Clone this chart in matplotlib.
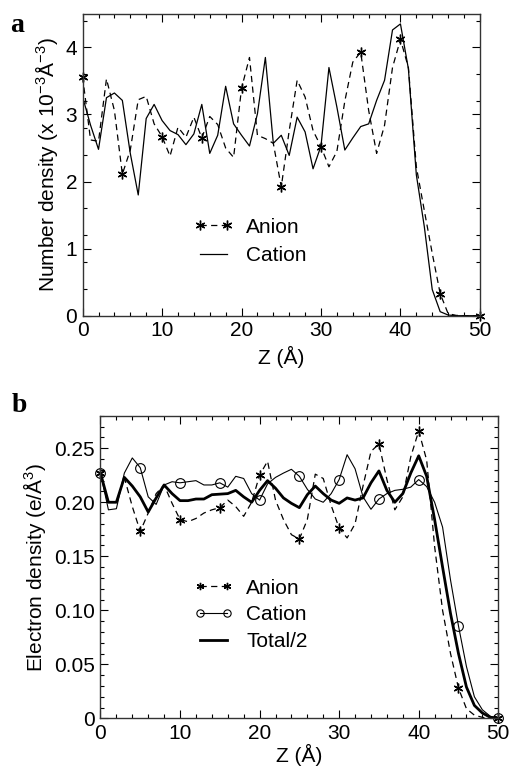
import matplotlib
matplotlib.use("Agg")
import matplotlib.pyplot as plt
from matplotlib.ticker import MultipleLocator

plt.rcParams['font.family'] = ['Liberation Sans', 'DejaVu Sans']
plt.rcParams['mathtext.fontset'] = 'custom'
plt.rcParams['mathtext.rm'] = 'Liberation Sans'
plt.rcParams['mathtext.it'] = 'Liberation Sans:italic'

z = list(range(51))

# panel a: number density (x 10^-3 A^-3)
anion_n = [3.56, 2.62, 2.60, 3.53, 3.06, 2.11, 2.47, 3.22, 3.27, 2.86,
           2.67, 2.38, 2.81, 2.66, 2.96, 2.65, 2.97, 2.85, 2.50, 2.36,
           3.39, 3.85, 2.69, 2.64, 2.57, 1.92, 2.76, 3.51, 3.26, 2.76,
           2.52, 2.22, 2.45, 3.20, 3.78, 3.93, 3.06, 2.42, 2.84, 3.70,
           4.12, 3.70, 2.22, 1.57, 0.93, 0.33, 0.03, 0.005, 0.0, 0.0, 0.0]
cation_n = [3.26, 2.84, 2.48, 3.25, 3.32, 3.21, 2.42, 1.80, 2.94, 3.15,
            2.91, 2.76, 2.70, 2.55, 2.71, 3.15, 2.42, 2.69, 3.42, 2.86,
            2.69, 2.53, 3.01, 3.85, 2.57, 2.69, 2.39, 2.96, 2.74, 2.19,
            2.53, 3.70, 3.11, 2.47, 2.65, 2.82, 2.86, 3.21, 3.51, 4.26,
            4.35, 3.68, 2.10, 1.33, 0.39, 0.06, 0.01, 0.0, 0.0, 0.0, 0.0]

# panel b: electron density (e/A^3)
anion_e = [0.227, 0.200, 0.200, 0.223, 0.196, 0.173, 0.190, 0.208, 0.216, 0.199,
           0.184, 0.182, 0.185, 0.190, 0.193, 0.195, 0.202, 0.196, 0.187, 0.200,
           0.225, 0.238, 0.202, 0.184, 0.170, 0.166, 0.184, 0.226, 0.222, 0.197,
           0.176, 0.167, 0.180, 0.215, 0.247, 0.254, 0.221, 0.193, 0.205, 0.242,
           0.266, 0.239, 0.159, 0.100, 0.060, 0.028, 0.009, 0.003, 0.001, 0.0, 0.0]
cation_e = [0.227, 0.193, 0.194, 0.227, 0.241, 0.232, 0.205, 0.198, 0.216, 0.219,
            0.218, 0.219, 0.220, 0.216, 0.216, 0.218, 0.214, 0.224, 0.222, 0.208,
            0.202, 0.217, 0.223, 0.227, 0.2305, 0.224, 0.212, 0.203, 0.200, 0.208,
            0.221, 0.244, 0.231, 0.205, 0.1935, 0.203, 0.208, 0.211, 0.212, 0.214,
            0.221, 0.2145, 0.200, 0.177, 0.128, 0.0855, 0.048, 0.020, 0.008, 0.002, 0.0]
total_e = [0.227, 0.200, 0.200, 0.223, 0.215, 0.205, 0.191, 0.204, 0.216, 0.208,
           0.2015, 0.2015, 0.203, 0.203, 0.207, 0.2075, 0.208, 0.211, 0.205, 0.200,
           0.211, 0.220, 0.213, 0.204, 0.199, 0.195, 0.207, 0.215, 0.208, 0.202,
           0.199, 0.204, 0.202, 0.204, 0.218, 0.229, 0.211, 0.200, 0.208, 0.227,
           0.243, 0.224, 0.184, 0.140, 0.097, 0.060, 0.029, 0.012, 0.005, 0.001, 0.0]

fig = plt.figure(figsize=(5.1, 7.7), dpi=100)
ax1 = fig.add_axes([0.162, 0.590, 0.779, 0.392])
ax2 = fig.add_axes([0.197, 0.067, 0.780, 0.393])

star = (6, 2, 0)
dash = (0, (5, 3.5))
fs = 15


def style_axes(ax, xpad):
    ax.tick_params(which='both', direction='in', top=True, right=True,
                   labelsize=fs, pad=4)
    ax.tick_params(which='major', length=6, width=0.8)
    ax.tick_params(which='minor', length=3, width=0.8)
    for s in ax.spines.values():
        s.set_linewidth(1.0)
        s.set_color('#333333')
    ax.set_xlim(0, 50)
    ax.xaxis.set_major_locator(MultipleLocator(10))
    ax.xaxis.set_minor_locator(MultipleLocator(2))
    ax.set_xlabel('Z (Å)', fontsize=fs, labelpad=xpad)


# ---- panel a ----
ax1.plot(z, anion_n, color='black', lw=0.9, linestyle=dash, marker=star,
         markersize=7, markevery=5, markeredgewidth=1.0, label='Anion', clip_on=False)
ax1.plot(z, cation_n, color='black', lw=0.9, label='Cation')
style_axes(ax1, 4)
ax1.set_ylim(0, 4.5)
ax1.set_xticks([0, 10, 20, 30, 40, 50])
ax1.set_yticks([0, 1, 2, 3, 4])
ax1.yaxis.set_minor_locator(MultipleLocator(0.4))
ax1.set_ylabel(r'Number density (x 10$^{-3}$Å$^{-3}$)', fontsize=fs, labelpad=4)
ax1.legend(loc='upper left', bbox_to_anchor=(0.28, 0.325), frameon=False,
           fontsize=fs, numpoints=2, handlelength=1.9, handletextpad=0.6,
           borderpad=0, borderaxespad=0, labelspacing=0.45)
fig.text(0.02, 0.958, 'a', fontsize=20, fontweight='bold',
         family=['Liberation Serif', 'DejaVu Serif'])

# ---- panel b ----
ax2.plot(z, anion_e, color='black', lw=0.9, linestyle=dash, marker=star,
         markersize=7, markevery=5, markeredgewidth=1.0, label='Anion', clip_on=False)
ax2.plot(z, cation_e, color='black', lw=0.8, marker='o', markersize=7,
         markerfacecolor='none', markeredgewidth=0.8, markevery=5,
         label='Cation', clip_on=False)
ax2.plot(z, total_e, color='black', lw=2.0, label='Total/2')
style_axes(ax2, 1)
ax2.set_ylim(0, 0.28)
ax2.set_yticks([0, 0.05, 0.10, 0.15, 0.20, 0.25])
ax2.set_yticklabels(['0', '0.05', '0.10', '0.15', '0.20', '0.25'])
ax2.yaxis.set_minor_locator(MultipleLocator(0.01))
ax2.set_ylabel(r'Electron density (e/Å$^3$)', fontsize=fs, labelpad=4)
ax2.legend(loc='upper left', bbox_to_anchor=(0.235, 0.462), frameon=False,
           fontsize=fs, numpoints=2, handlelength=1.9, handletextpad=0.6,
           borderpad=0, borderaxespad=0, labelspacing=0.37, markerscale=0.75)
fig.text(0.022, 0.465, 'b', fontsize=20, fontweight='bold',
         family=['Liberation Serif', 'DejaVu Serif'])

fig.savefig('out.png', dpi=100)
